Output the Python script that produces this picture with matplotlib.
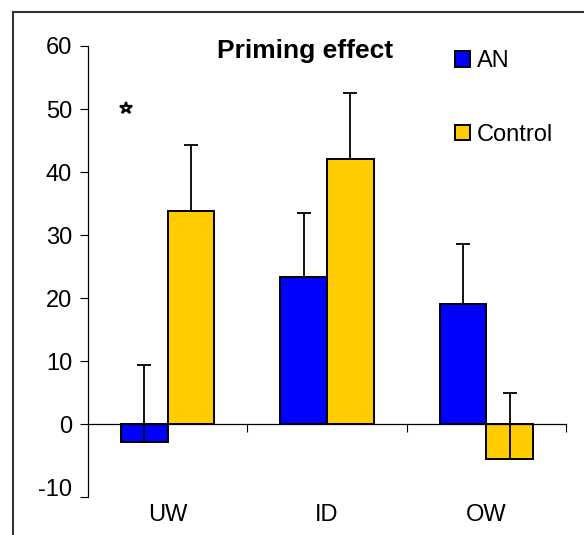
import numpy as np
import matplotlib.pyplot as plt
from matplotlib.lines import Line2D

plt.rcParams['font.family'] = ['Liberation Sans', 'DejaVu Sans']
plt.rcParams['axes.unicode_minus'] = False

# Data
categories = ['UW', 'ID', 'OW']
an_values = [-2.8, 23.4, 19.1]
an_errors = [12.3, 10.1, 9.5]
control_values = [33.8, 42.1, -5.5]
control_errors = [10.5, 10.5, 10.45]
star_pos = (-0.26, 50.1)  # significance marker over UW

blue = '#0000FF'
yellow = '#FFCC00'

fig = plt.figure(figsize=(5.84, 5.35), dpi=100)
ax = fig.add_axes([88 / 584, 1 - 497 / 535, 478 / 584, (497 - 46) / 535])

x = np.arange(len(categories))
w = 0.292

b1 = ax.bar(x - w / 2, an_values, w, color=blue, edgecolor='black', linewidth=1.4, label='AN', zorder=2)
b2 = ax.bar(x + w / 2, control_values, w, color=yellow, edgecolor='black', linewidth=1.4, label='Control', zorder=2)

# upper error bars only
ax.errorbar(x - w / 2, an_values, yerr=[np.zeros(3), an_errors], fmt='none',
            ecolor='black', elinewidth=1.3, capsize=4.9, capthick=1.3, zorder=3)
ax.errorbar(x + w / 2, control_values, yerr=[np.zeros(3), control_errors], fmt='none',
            ecolor='black', elinewidth=1.3, capsize=4.9, capthick=1.3, zorder=3)

ax.plot([star_pos[0]], [star_pos[1]], marker='*', ms=9, mfc='white', mec='black', mew=1.6,
        linestyle='none', zorder=4)

ax.set_xlim(-0.5, 2.5)
ax.set_ylim(-11.5, 60)

# axes styling
for s in ['top', 'right']:
    ax.spines[s].set_visible(False)
ax.spines['bottom'].set_position(('data', 0))
ax.spines['left'].set_linewidth(0.9)
ax.spines['bottom'].set_linewidth(0.9)

ax.set_yticks(np.arange(-10, 61, 10))
ax.set_yticks([-11.5], minor=True)
ax.tick_params(axis='y', which='both', direction='out', length=5.5, width=0.8, pad=6, labelsize=17)
ax.yaxis.get_major_ticks()[0].tick1line.set_visible(False)

ax.set_xticks([0.5, 1.5, 2.5])
ax.set_xticklabels([])
ax.tick_params(axis='x', direction='out', length=5.8, width=0.8)

for i, c in enumerate(categories):
    ax.text(i, -14.3, c, ha='center', va='center', fontsize=17, clip_on=False)

fig.text(305 / 584, 1 - 58.3 / 535, 'Priming effect', ha='center', va='baseline',
         fontsize=19, fontweight='bold')

ax.legend(handles=[b1, b2], loc='upper left', bbox_to_anchor=(455 / 584, 1 - 50 / 535),
          bbox_transform=fig.transFigure, frameon=False, fontsize=17, borderpad=0,
          borderaxespad=0, handlelength=0.64, handleheight=0.64, handletextpad=0.3,
          labelspacing=2.2)

# outer frame (top and left edges)
fig.add_artist(Line2D([13 / 584, 1], [1 - 12 / 535, 1 - 12 / 535], color='#333333', lw=1.5))
fig.add_artist(Line2D([13 / 584, 13 / 584], [0, 1 - 12 / 535], color='#333333', lw=1.5))

fig.savefig('out.png', dpi=100)
